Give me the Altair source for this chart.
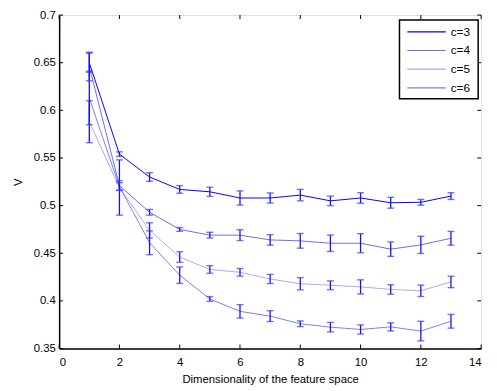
import altair as alt
import pandas as pd

dims = list(range(1, 14))
series = ["c=3", "c=4", "c=5", "c=6"]
c3 = [0.650, 0.554, 0.530, 0.517, 0.5145, 0.508, 0.508, 0.511, 0.505, 0.508, 0.503, 0.5035, 0.510]
c3_err = [0.010, 0.0024, 0.0045, 0.004, 0.0048, 0.0074, 0.0053, 0.006, 0.005, 0.0055, 0.0057, 0.003, 0.0035]
c4 = [0.646, 0.521, 0.493, 0.475, 0.469, 0.469, 0.464, 0.463, 0.4605, 0.4605, 0.4543, 0.4588, 0.4657]
c4_err = [0.015, 0.005, 0.003, 0.002, 0.003, 0.0057, 0.0055, 0.0077, 0.0086, 0.010, 0.0076, 0.009, 0.0072]
c5 = [0.588, 0.519, 0.474, 0.446, 0.433, 0.430, 0.423, 0.418, 0.4164, 0.4147, 0.412, 0.4106, 0.4199]
c5_err = [0.022, 0.029, 0.008, 0.0055, 0.004, 0.004, 0.0048, 0.0064, 0.0046, 0.0074, 0.005, 0.006, 0.006]
c6 = [0.613, 0.520, 0.461, 0.427, 0.402, 0.389, 0.384, 0.376, 0.3724, 0.370, 0.3727, 0.3683, 0.3786]
c6_err = [0.028, 0.004, 0.0125, 0.0086, 0.0025, 0.007, 0.0057, 0.003, 0.005, 0.0048, 0.0043, 0.0103, 0.0072]
line_colors = ["#0000ff", "#6c6ce6", "#a9a9f4", "#7e7eea"]
x_ticks = [0, 2, 4, 6, 8, 10, 12, 14]
y_ticks = [0.35, 0.4, 0.45, 0.5, 0.55, 0.6, 0.65, 0.7]

rows = []
for name, vals, errs in zip(series, [c3, c4, c5, c6], [c3_err, c4_err, c5_err, c6_err]):
    for d, v, e in zip(dims, vals, errs):
        rows.append({"series": name, "dim": d, "V": v, "lo": v - e, "hi": v + e})
df = pd.DataFrame(rows)

W, H = 429, 339
FONT = "Liberation Sans"

xs = alt.Scale(domain=[0, 14], nice=False)
ys = alt.Scale(domain=[0.35, 0.7], nice=False)

base = alt.Chart(df)

lines = base.mark_line(strokeWidth=1).encode(
    x=alt.X("dim:Q", scale=xs,
            axis=alt.Axis(values=x_ticks, ticks=False, grid=False, labelFont=FONT, labelFontSize=11.5,
                          labelColor="black", labelPadding=8, domainColor="black", domainWidth=1.5,
                          title="Dimensionality of the feature space", titleFont=FONT, titleFontSize=11.5,
                          titleFontWeight="normal", titleColor="black", titlePadding=6)),
    y=alt.Y("V:Q", scale=ys,
            axis=alt.Axis(values=y_ticks, ticks=False, grid=False, format=".2~f", labelFont=FONT,
                          labelFontSize=11.5, labelColor="black", labelPadding=4, domainColor="black",
                          domainWidth=1.5, title="V", titleFont=FONT, titleFontSize=11.5,
                          titleFontWeight="normal", titleColor="black", titlePadding=10)),
    color=alt.Color("series:N", scale=alt.Scale(domain=series, range=line_colors), legend=None),
    order="dim:Q",
)

bars = base.mark_rule(color="#1010ff", strokeWidth=1.3).encode(
    x="dim:Q", y="lo:Q", y2="hi:Q"
)
cap_lo = base.mark_tick(color="#3535ff", orient="horizontal", size=7, thickness=1.4).encode(
    x="dim:Q", y="lo:Q"
)
cap_hi = base.mark_tick(color="#3535ff", orient="horizontal", size=7, thickness=1.4).encode(
    x="dim:Q", y="hi:Q"
)

xt = alt.Chart(pd.DataFrame({"t": x_ticks}))
yt = alt.Chart(pd.DataFrame({"t": y_ticks}))
tk_bottom = xt.mark_rule(color="black", strokeWidth=1).encode(
    x=alt.X("t:Q", scale=xs), y=alt.value(H), y2=alt.value(H - 4))
tk_top = xt.mark_rule(color="black", strokeWidth=1).encode(
    x=alt.X("t:Q", scale=xs), y=alt.value(0), y2=alt.value(4))
tk_left = yt.mark_rule(color="black", strokeWidth=1).encode(
    y=alt.Y("t:Q", scale=ys), x=alt.value(0), x2=alt.value(4))
tk_right = yt.mark_rule(color="black", strokeWidth=1).encode(
    y=alt.Y("t:Q", scale=ys), x=alt.value(W), x2=alt.value(W - 4))

# legend
leg_df = pd.DataFrame({"label": series, "idx": list(range(len(series)))})
leg = alt.Chart(leg_df).transform_calculate(ypix="17 + 19 * datum.idx")
leg_box = alt.Chart(pd.DataFrame({"a": [0]})).mark_rect(
    fill="white", stroke="black", strokeWidth=1.5).encode(
    x=alt.value(346), x2=alt.value(426), y=alt.value(5), y2=alt.value(85))
leg_lines = leg.mark_rule(strokeWidth=1.2).encode(
    x=alt.value(354), x2=alt.value(393), y=alt.Y("ypix:Q", scale=None),
    color=alt.Color("label:N", scale=alt.Scale(domain=series, range=line_colors), legend=None))
leg_text = leg.mark_text(align="left", baseline="middle", font=FONT, fontSize=12, color="black").encode(
    x=alt.value(398), y=alt.Y("ypix:Q", scale=None), text="label:N")

chart = alt.layer(
    lines, bars, cap_lo, cap_hi, tk_bottom, tk_top, tk_left, tk_right, leg_box, leg_lines, leg_text
).properties(
    width=W, height=H,
    autosize=alt.AutoSizeParams(type="none"),
    padding={"left": 52, "top": 4, "right": 8, "bottom": 40},
).configure_view(stroke="black", strokeWidth=1).configure(background="white")

chart.save("out.html", embed_options={"renderer": "svg", "actions": False})
